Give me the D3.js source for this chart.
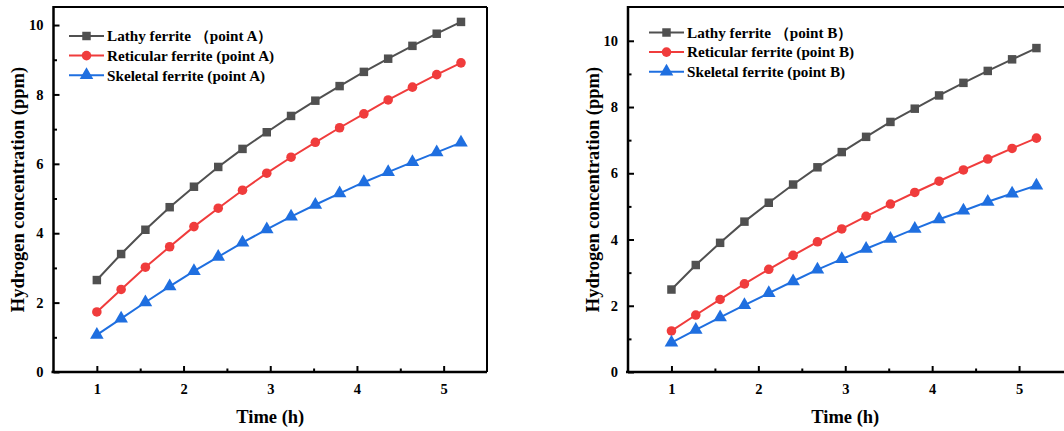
<!DOCTYPE html>
<html><head><meta charset="utf-8">
<script src="https://cdn.jsdelivr.net/npm/d3@7"></script>
<style>body{margin:0;background:#fff}svg{display:block}</style>
</head><body><svg id="c" width="1064" height="431"></svg>
<script>
const times = [1, 1.28, 1.56, 1.84, 2.12, 2.4, 2.68, 2.96, 3.24, 3.52, 3.8, 4.08, 4.36, 4.64, 4.92, 5.2];
const lathyA = [2.65, 3.40, 4.10, 4.75, 5.34, 5.91, 6.43, 6.91, 7.38, 7.82, 8.24, 8.65, 9.03, 9.40, 9.75, 10.09];
const reticA = [1.73, 2.38, 3.02, 3.61, 4.19, 4.72, 5.24, 5.73, 6.19, 6.62, 7.04, 7.44, 7.84, 8.21, 8.57, 8.91];
const skelA  = [1.07, 1.54, 2.01, 2.47, 2.91, 3.32, 3.73, 4.11, 4.48, 4.82, 5.15, 5.47, 5.76, 6.05, 6.33, 6.61];
const lathyB = [2.49, 3.23, 3.90, 4.54, 5.11, 5.66, 6.18, 6.64, 7.10, 7.55, 7.95, 8.35, 8.73, 9.09, 9.44, 9.78];
const reticB = [1.24, 1.72, 2.19, 2.66, 3.10, 3.52, 3.93, 4.32, 4.70, 5.07, 5.42, 5.76, 6.10, 6.43, 6.75, 7.06];
const skelB  = [0.89, 1.27, 1.65, 2.02, 2.38, 2.74, 3.09, 3.41, 3.72, 4.02, 4.32, 4.61, 4.87, 5.14, 5.39, 5.63];
const xTicks = [1, 2, 3, 4, 5];
const yTicks = [0, 2, 4, 6, 8, 10];
const seriesNamesA = ["Lathy ferrite \uFF08point A\uFF09", "Reticular ferrite (point A)", "Skeletal ferrite (point A)"];
const seriesNamesB = ["Lathy ferrite \uFF08point B\uFF09", "Reticular ferrite (point B)", "Skeletal ferrite (point B)"];
const colors = ["#505050", "#F03C3C", "#1F6FE0"];
const symbols = [d3.symbolSquare, d3.symbolCircle, d3.symbolTriangle];
const symSizes = [72, 72, 80];

const svg = d3.select("#c");
const FONT = "Liberation Serif";

function panel(o) {
  const x = d3.scaleLinear().domain([0.5, 5.5]).range([o.left, o.right]);
  const y = d3.scaleLinear().domain([0, o.ymax]).range([o.bottom, o.top]);
  const g = svg.append("g");
  g.append("line").attr("x1", o.left).attr("x2", o.frameRight).attr("y1", o.top).attr("y2", o.top).attr("stroke", "#000").attr("stroke-width", 2);
  if (o.drawRight) g.append("line").attr("x1", o.right).attr("x2", o.right).attr("y1", o.top).attr("y2", o.bottom).attr("stroke", "#000").attr("stroke-width", 2);

  const xa = g.append("g").attr("transform", `translate(0,${o.bottom})`)
    .call(d3.axisBottom(x).tickValues(xTicks).tickSizeInner(-6).tickSizeOuter(0).tickPadding(12).tickFormat(d3.format("d")));
  const xm = g.append("g").attr("transform", `translate(0,${o.bottom})`)
    .call(d3.axisBottom(x).tickValues([1.5, 2.5, 3.5, 4.5]).tickSizeInner(-3.5).tickSizeOuter(0).tickFormat(""));
  const ya = g.append("g").attr("transform", `translate(${o.left},0)`)
    .call(d3.axisLeft(y).tickValues(yTicks).tickSizeInner(-6).tickSizeOuter(0).tickPadding(10).tickFormat(d3.format("d")));
  const ym = g.append("g").attr("transform", `translate(${o.left},0)`)
    .call(d3.axisLeft(y).tickValues([1, 3, 5, 7, 9]).tickSizeInner(-3.5).tickSizeOuter(0).tickFormat(""));
  [xa, xm, ya, ym].forEach(a => {
    a.select(".domain").remove();
    a.selectAll("line").attr("stroke", "#000").attr("stroke-width", 2);
    a.selectAll("text").style("font-family", FONT).attr("font-weight", "bold").attr("font-size", 14.5).attr("fill", "#000");
  });
  g.append("line").attr("x1", o.left - 2).attr("x2", o.frameRight).attr("y1", o.bottom).attr("y2", o.bottom).attr("stroke", "#000").attr("stroke-width", 2.5);
  g.append("line").attr("x1", o.left).attr("x2", o.left).attr("y1", o.top - 1).attr("y2", o.bottom).attr("stroke", "#000").attr("stroke-width", 2.5);

  o.series.forEach((vals, i) => {
    const pts = times.map((t, k) => [t, vals[k]]);
    g.append("path").datum(pts)
      .attr("d", d3.line().x(d => x(d[0])).y(d => y(d[1])))
      .attr("fill", "none").attr("stroke", colors[i]).attr("stroke-width", 2);
    g.selectAll(null).data(pts).enter().append("path")
      .attr("d", d3.symbol().type(symbols[i]).size(symSizes[i]))
      .attr("transform", d => `translate(${x(d[0])},${y(d[1])})`)
      .attr("fill", colors[i]);
  });

  o.names.forEach((n, i) => {
    const ly = o.legY + i * 19.6;
    g.append("line").attr("x1", o.legX).attr("x2", o.legX + 35).attr("y1", ly).attr("y2", ly)
      .attr("stroke", colors[i]).attr("stroke-width", 2);
    g.append("path").attr("d", d3.symbol().type(symbols[i]).size(symSizes[i]))
      .attr("transform", `translate(${o.legX + 17.5},${ly})`).attr("fill", colors[i]);
    g.append("text").attr("x", o.legX + 38).attr("y", ly).attr("dy", "0.35em")
      .style("font-family", FONT).attr("font-weight", "bold").attr("font-size", 15.2).attr("fill", "#000")
      .text(n);
  });

  g.append("text").attr("x", (o.left + o.right) / 2).attr("y", 423)
    .attr("text-anchor", "middle").style("font-family", FONT).attr("font-weight", "bold").attr("font-size", 18.5)
    .text("Time (h)");
  g.append("text").attr("transform", `translate(${o.ytx},${(o.top + o.bottom) / 2}) rotate(-90)`)
    .attr("text-anchor", "middle").style("font-family", FONT).attr("font-weight", "bold").attr("font-size", 18.5)
    .text("Hydrogen concentration (ppm)");
}

panel({left: 53.5, right: 487, frameRight: 487, drawRight: true, top: 7, bottom: 372, ymax: 10.52,
  series: [lathyA, reticA, skelA], names: seriesNamesA, legX: 69, legY: 36, ytx: 24});
panel({left: 628, right: 1062.5, frameRight: 1064, drawRight: false, top: 7, bottom: 372, ymax: 11.02,
  series: [lathyB, reticB, skelB], names: seriesNamesB, legX: 649, legY: 32.5, ytx: 599});
</script></body></html>
